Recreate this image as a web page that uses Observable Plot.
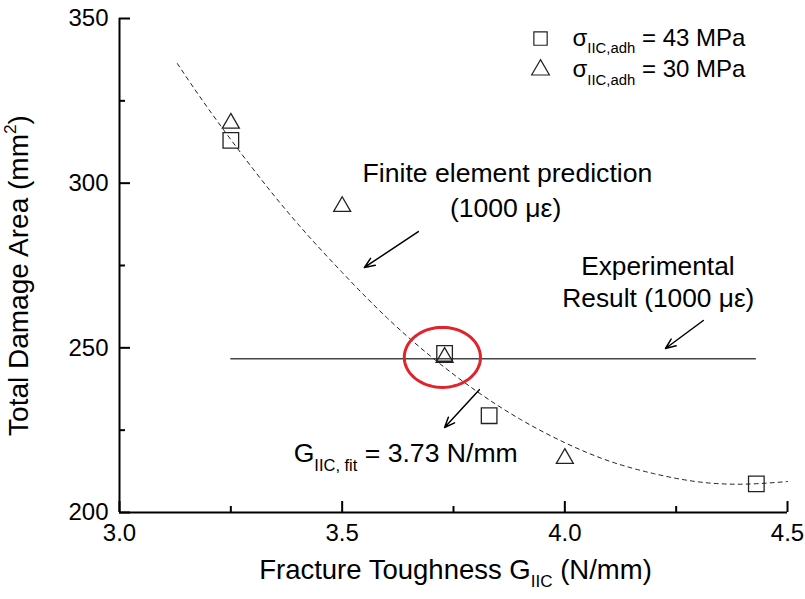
<!DOCTYPE html>
<html>
<head>
<meta charset="utf-8">
<script src="https://cdn.jsdelivr.net/npm/d3@7"></script>
<script src="https://cdn.jsdelivr.net/npm/@observablehq/plot@0.6"></script>
<style>
  html, body { margin: 0; padding: 0; background: #fff; }
  #chart svg { display: block; }
</style>
</head>
<body>
<div id="chart"></div>
<script>
// Fracture toughness (N/mm) vs. total damage area (mm²)
const xTicks = [3.0, 3.5, 4.0, 4.5];
const xMinorTicks = [3.25, 3.75, 4.25];
const yTicks = [200, 250, 300, 350];
const yMinorTicks = [225, 275, 325];

// σ_IIC,adh = 43 MPa
const g43 = [3.25, 3.73, 3.83, 4.43];
const area43 = [313.0, 248.3, 229.4, 208.7];

// σ_IIC,adh = 30 MPa
const g30 = [3.25, 3.50, 3.73, 4.00];
const area30 = [318.2, 292.9, 247.1, 216.4];

// Finite element prediction curve (dashed)
const curveG = [3.13, 3.2, 3.3, 3.4, 3.5, 3.6, 3.7, 3.8, 3.9, 4.0, 4.1, 4.2, 4.3, 4.4, 4.5];
const curveArea = [336.3, 322.5, 304.3, 287.7, 272.9, 259.2, 247.3, 237.0, 228.3, 221.2, 215.6, 211.8, 209.3, 208.6, 209.4];

// Experimental result (1000 με)
const expRange = [3.25, 4.43];
const expArea = 246.7;

// Fitted fracture toughness
const gFit = 3.73;

const stresses = [43, 30];

const pts43 = g43.map((g, i) => ({g, area: area43[i]}));
const pts30 = g30.map((g, i) => ({g, area: area30[i]}));
const curve = curveG.map((g, i) => ({g, area: curveArea[i]}));
const legendLabels = stresses.map(s => `σ_{IIC,adh} = ${s} MPa`);

// Ellipse outline used to circle the fitted point
const ellipse = {
  draw(context, size) {
    const r = Math.sqrt(size / Math.PI);
    const rx = r * 1.27, ry = r;
    context.moveTo(rx, 0);
    for (let i = 1; i <= 72; ++i) {
      const a = (i / 72) * 2 * Math.PI;
      context.lineTo(rx * Math.cos(a), ry * Math.sin(a));
    }
    context.closePath();
  }
};

const font = "'Liberation Sans', Arial, Helvetica, sans-serif";
const ink = "#000";

const chart = Plot.plot({
  width: 805,
  height: 599,
  marginLeft: 119,
  marginRight: 18,
  marginTop: 18,
  marginBottom: 87,
  style: {fontFamily: font, fontSize: "24px", color: ink, background: "#fff"},
  x: {domain: [3.0, 4.5]},
  y: {domain: [200, 350]},
  marks: [
    // axes: lines with inward ticks
    Plot.ruleX([3.0], {stroke: ink, strokeWidth: 2}),
    Plot.ruleY([200], {stroke: ink, strokeWidth: 2}),
    Plot.axisX(xTicks, {tickSize: -11, tickPadding: 22, strokeWidth: 2, fontSize: 24, tickFormat: d3.format(".1f"), label: null}),
    Plot.axisX(xMinorTicks, {tickSize: -6, strokeWidth: 2, tickFormat: () => "", label: null}),
    Plot.axisY(yTicks, {tickSize: -11, tickPadding: 22, strokeWidth: 2, fontSize: 24, tickFormat: d3.format("d"), label: null}),
    Plot.axisY(yMinorTicks, {tickSize: -6, strokeWidth: 2, tickFormat: () => "", label: null}),

    // axis titles
    Plot.text(["Fracture Toughness G_{IIC} (N/mm)"], {frameAnchor: "bottom", textAnchor: "middle", dx: 2, dy: 66, lineAnchor: "bottom", fontSize: 27.5, fill: ink}),
    Plot.text(["Total Damage Area (mm^{2})"], {frameAnchor: "left", textAnchor: "middle", rotate: -90, dx: -92, dy: 10, lineAnchor: "bottom", fontSize: 28, fill: ink}),

    // experimental result
    Plot.ruleY([expArea], {x1: expRange[0], x2: expRange[1], stroke: "#444", strokeWidth: 1.4}),

    // finite element prediction
    Plot.line(curve, {x: "g", y: "area", curve: "natural", stroke: "#222", strokeWidth: 1, strokeDasharray: "4,4"}),

    // data points
    Plot.dot(pts43, {x: "g", y: "area", symbol: "square", r: 8.8, stroke: "#222", strokeWidth: 1.3, fill: "none"}),
    Plot.dot(pts30, {x: "g", y: "area", symbol: "triangle", r: 6.3, stroke: "#222", strokeWidth: 1.3, fill: "none"}),

    // highlight around the fitted value
    Plot.dot([gFit], {x: d => d - 0.005, y: expArea + 0.4, symbol: ellipse, r: 30, stroke: "#e3232b", strokeWidth: 3, fill: "none"}),

    // annotations
    Plot.text(["Finite element prediction"], {x: 3.871, y: 300.3, lineAnchor: "bottom", fontSize: 26.6, fill: ink}),
    Plot.text(["(1000 με)"], {x: 3.867, y: 289.7, lineAnchor: "bottom", fontSize: 26.6, fill: ink}),
    Plot.arrow([0], {x1: 3.671, y1: 285.3, x2: 3.550, y2: 274.4, stroke: ink, strokeWidth: 1.5, headLength: 11, headAngle: 45}),

    Plot.text(["Experimental"], {x: 4.209, y: 272.0, lineAnchor: "bottom", fontSize: 26.3, fill: ink}),
    Plot.text(["Result (1000 με)"], {x: 4.210, y: 262.3, lineAnchor: "bottom", fontSize: 26.3, fill: ink}),
    Plot.arrow([0], {x1: 4.311, y1: 258.3, x2: 4.226, y2: 249.8, stroke: ink, strokeWidth: 1.5, headLength: 11, headAngle: 45}),

    Plot.text([gFit], {x: 3.391, y: 215.3, text: d => `G_{IIC, fit} = ${d.toFixed(2)} N/mm`, textAnchor: "start", lineAnchor: "bottom", fontSize: 26.6, fill: ink}),
    Plot.arrow([0], {x1: 3.808, y1: 237.3, x2: 3.730, y2: 225.8, stroke: ink, strokeWidth: 1.5, headLength: 11, headAngle: 45}),

    // legend
    Plot.dot([legendLabels[0]], {x: 3.9454, y: 343.9, symbol: "square", r: 7.5, stroke: "#222", strokeWidth: 1.2, fill: "none"}),
    Plot.dot([legendLabels[1]], {x: 3.9454, y: 334.4, symbol: "triangle", r: 6.6, stroke: "#222", strokeWidth: 1.2, fill: "none"}),
    Plot.text([legendLabels[0]], {x: 4.0173, y: 341.8, textAnchor: "start", lineAnchor: "bottom", fontSize: 24, fill: ink}),
    Plot.text([legendLabels[1]], {x: 4.0173, y: 332.1, textAnchor: "start", lineAnchor: "bottom", fontSize: 24, fill: ink})
  ]
});

document.getElementById("chart").appendChild(chart);

// Turn _{...} and ^{...} into subscript / superscript tspans
function richText(root) {
  root.querySelectorAll("text").forEach(t => {
    const s = t.textContent;
    if (!/[_^]\{/.test(s)) return;
    const fs = parseFloat(getComputedStyle(t).fontSize) || 24;
    const parts = [];
    const re = /([_^])\{([^}]*)\}/g;
    let last = 0, m;
    while ((m = re.exec(s))) {
      if (m.index > last) parts.push({type: "n", text: s.slice(last, m.index)});
      parts.push({type: m[1] === "_" ? "sub" : "sup", text: m[2]});
      last = re.lastIndex;
    }
    if (last < s.length) parts.push({type: "n", text: s.slice(last)});
    t.textContent = "";
    let shift = 0;
    const ns = "http://www.w3.org/2000/svg";
    for (const p of parts) {
      const span = document.createElementNS(ns, "tspan");
      let target = 0;
      if (p.type === "sub") { target = 0.32 * fs; span.setAttribute("font-size", (0.62 * fs).toFixed(2)); }
      if (p.type === "sup") { target = -0.42 * fs; span.setAttribute("font-size", (0.62 * fs).toFixed(2)); }
      const d = target - shift;
      if (d) span.setAttribute("dy", d.toFixed(2));
      shift = target;
      span.textContent = p.text;
      t.appendChild(span);
    }
  });
}
richText(chart);
</script>
</body>
</html>
